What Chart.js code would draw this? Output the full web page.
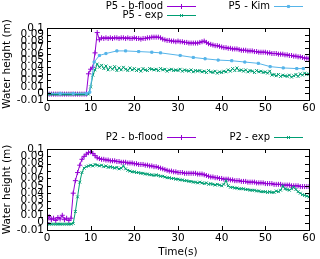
<!DOCTYPE html>
<html lang="en">
<head>
<meta charset="UTF-8">
<script src="https://cdn.jsdelivr.net/npm/chart.js@4.4.0/dist/chart.umd.min.js"></script>
<title>Water height P5 / P2</title>
<style>
  body { margin: 0; background: #fff; }
  canvas { display: block; }
</style>
</head>
<body>
<canvas id="topChart" width="320" height="130"></canvas>
<canvas id="bottomChart" width="320" height="129"></canvas>
<script>
// time axis (s), 0.5 s sampling
const time = [
  0, 0.5, 1, 1.5, 2, 2.5, 3, 3.5, 4, 4.5,
  5, 5.5, 6, 6.5, 7, 7.5, 8, 8.5, 9, 9.5,
  10, 10.5, 11, 11.5, 12, 12.5, 13, 13.5, 14, 14.5,
  15, 15.5, 16, 16.5, 17, 17.5, 18, 18.5, 19, 19.5,
  20, 20.5, 21, 21.5, 22, 22.5, 23, 23.5, 24, 24.5,
  25, 25.5, 26, 26.5, 27, 27.5, 28, 28.5, 29, 29.5,
  30, 30.5, 31, 31.5, 32, 32.5, 33, 33.5, 34, 34.5,
  35, 35.5, 36, 36.5, 37, 37.5, 38, 38.5, 39, 39.5,
  40, 40.5, 41, 41.5, 42, 42.5, 43, 43.5, 44, 44.5,
  45, 45.5, 46, 46.5, 47, 47.5, 48, 48.5, 49, 49.5,
  50, 50.5, 51, 51.5, 52, 52.5, 53, 53.5, 54, 54.5,
  55, 55.5, 56, 56.5, 57, 57.5, 58, 58.5, 59, 59.5,
  60
];

const p5Bflood = [
  -0.001, -0.001, -0.001, -0.001, -0.001, -0.001, -0.001, -0.001, -0.001, -0.001,
  -0.001, -0.001, -0.001, -0.001, -0.001, -0.001, -0.001, -0.001, -0.001, 0.030,
  0.037, 0.040, 0.062, 0.093, 0.082, 0.085, 0.084, 0.085, 0.084, 0.085,
  0.084, 0.085, 0.085, 0.084, 0.085, 0.085, 0.084, 0.085, 0.084, 0.084,
  0.085, 0.084, 0.084, 0.083, 0.084, 0.084, 0.085, 0.085, 0.086, 0.086,
  0.086, 0.086, 0.085, 0.083, 0.082, 0.081, 0.081, 0.080, 0.080, 0.079,
  0.080, 0.079, 0.079, 0.078, 0.078, 0.077, 0.077, 0.077, 0.077, 0.077,
  0.078, 0.079, 0.080, 0.078, 0.076, 0.075, 0.074, 0.073, 0.073, 0.072,
  0.071, 0.070, 0.070, 0.069, 0.069, 0.068, 0.068, 0.068, 0.067, 0.066,
  0.066, 0.066, 0.065, 0.065, 0.065, 0.064, 0.064, 0.063, 0.063, 0.063,
  0.063, 0.062, 0.062, 0.061, 0.061, 0.061, 0.060, 0.060, 0.060, 0.059,
  0.059, 0.058, 0.058, 0.057, 0.057, 0.056, 0.056, 0.055, 0.054, 0.054,
  0.053
];

const p5Exp = [
  -0.001, -0.001, -0.001, -0.001, -0.001, -0.001, -0.001, -0.001, -0.001, -0.001,
  -0.001, -0.001, -0.001, -0.001, -0.001, -0.001, -0.001, -0.001, -0.001, -0.001,
  0.010, 0.028, 0.036, 0.045, 0.040, 0.043, 0.038, 0.042, 0.036, 0.040,
  0.037, 0.041, 0.035, 0.039, 0.036, 0.040, 0.037, 0.035, 0.039, 0.036,
  0.038, 0.035, 0.037, 0.034, 0.038, 0.036, 0.035, 0.038, 0.037, 0.036,
  0.037, 0.035, 0.038, 0.036, 0.037, 0.034, 0.036, 0.037, 0.035, 0.036,
  0.035, 0.037, 0.034, 0.036, 0.035, 0.034, 0.036, 0.033, 0.035, 0.034,
  0.035, 0.033, 0.034, 0.032, 0.035, 0.033, 0.032, 0.034, 0.031, 0.033,
  0.032, 0.034, 0.033, 0.036, 0.034, 0.038, 0.035, 0.039, 0.035, 0.036,
  0.034, 0.036, 0.033, 0.035, 0.034, 0.032, 0.035, 0.033, 0.034, 0.032,
  0.033, 0.031, 0.034, 0.028, 0.029, 0.027, 0.029, 0.026, 0.028, 0.027,
  0.026, 0.028, 0.025, 0.027, 0.029, 0.026, 0.030, 0.028, 0.031, 0.029,
  0.030
];

const kimTime = [0, 3, 6, 9, 9.8, 10.8, 12, 13.5, 16, 18, 21, 24, 26, 30.5, 33.5, 36.2, 39.2, 42.3, 45.3, 48.4, 51.1, 54.1, 57.2, 58.7];
const p5Kim = [0, 0, 0, 0, 0.002, 0.048, 0.058, 0.061, 0.065, 0.065, 0.064, 0.063, 0.062, 0.058, 0.055, 0.053, 0.051, 0.050, 0.048, 0.046, 0.041, 0.039, 0.038, 0.038];

const p2Bflood = [
  0.000, 0.008, 0.004, 0.006, 0.003, 0.007, 0.005, 0.010, 0.004, 0.006,
  0.003, 0.006, 0.040, 0.057, 0.068, 0.078, 0.086, 0.090, 0.093, 0.095,
  0.096, 0.094, 0.091, 0.088, 0.087, 0.086, 0.086, 0.085, 0.085, 0.084,
  0.084, 0.084, 0.083, 0.083, 0.082, 0.082, 0.082, 0.081, 0.081, 0.081,
  0.080, 0.080, 0.079, 0.079, 0.079, 0.078, 0.078, 0.077, 0.077, 0.076,
  0.076, 0.075, 0.074, 0.073, 0.072, 0.071, 0.070, 0.070, 0.069, 0.069,
  0.068, 0.068, 0.068, 0.067, 0.067, 0.067, 0.067, 0.067, 0.067, 0.066,
  0.066, 0.066, 0.065, 0.064, 0.063, 0.062, 0.062, 0.061, 0.061, 0.060,
  0.060, 0.059, 0.059, 0.059, 0.058, 0.058, 0.057, 0.057, 0.057, 0.056,
  0.056, 0.056, 0.055, 0.055, 0.055, 0.055, 0.054, 0.054, 0.054, 0.054,
  0.053, 0.053, 0.053, 0.053, 0.052, 0.052, 0.052, 0.052, 0.051, 0.051,
  0.051, 0.051, 0.050, 0.050, 0.050, 0.050, 0.049, 0.049, 0.049, 0.049,
  0.049
];

const p2Exp = [
  -0.002, -0.002, -0.002, -0.002, -0.002, -0.002, -0.002, -0.002, -0.002, -0.002,
  -0.002, -0.002, -0.001, 0.015, 0.035, 0.055, 0.068, 0.074, 0.076, 0.077,
  0.078, 0.077, 0.079, 0.078, 0.077, 0.078, 0.076, 0.077, 0.075, 0.076,
  0.075, 0.074, 0.075, 0.073, 0.074, 0.077, 0.073, 0.071, 0.070, 0.069,
  0.069, 0.068, 0.068, 0.067, 0.067, 0.066, 0.066, 0.065, 0.065, 0.064,
  0.065, 0.064, 0.063, 0.063, 0.062, 0.061, 0.061, 0.060, 0.060, 0.059,
  0.059, 0.058, 0.058, 0.057, 0.057, 0.056, 0.056, 0.055, 0.055, 0.054,
  0.055, 0.054, 0.053, 0.054, 0.052, 0.053, 0.052, 0.051, 0.052, 0.051,
  0.050, 0.052, 0.057, 0.050, 0.048, 0.048, 0.047, 0.047, 0.046, 0.046,
  0.046, 0.045, 0.045, 0.044, 0.044, 0.044, 0.043, 0.043, 0.042, 0.042,
  0.042, 0.041, 0.042, 0.041, 0.041, 0.043, 0.042, 0.044, 0.050, 0.046,
  0.045, 0.044, 0.046, 0.048, 0.045, 0.042, 0.040, 0.038, 0.037, 0.036,
  0.035
];

const PURPLE = '#9400d3';
const GREEN = '#009e73';
const BLUE = '#56b4e9';
const FONT = { family: 'DejaVu Sans', size: 10.5 };

function pts(xs, ys) {
  return xs.map((x, i) => ({ x: x, y: ys[i] }));
}

// gnuplot style frame with inward ticks on all sides
const framePlugin = {
  id: 'frame',
  afterDatasetsDraw(chart) {
    const ctx = chart.ctx, a = chart.chartArea;
    const xs = chart.scales.x, ys = chart.scales.y;
    ctx.save();
    ctx.strokeStyle = '#000';
    ctx.lineWidth = 1;
    ctx.beginPath();
    xs.ticks.forEach(t => {
      const p = Math.round(xs.getPixelForValue(t.value)) + 0.5;
      ctx.moveTo(p, a.bottom); ctx.lineTo(p, a.bottom - 4);
      ctx.moveTo(p, a.top); ctx.lineTo(p, a.top + 4);
    });
    ys.ticks.forEach(t => {
      const p = Math.round(ys.getPixelForValue(t.value)) + 0.5;
      ctx.moveTo(a.left, p); ctx.lineTo(a.left + 4, p);
      ctx.moveTo(a.right, p); ctx.lineTo(a.right - 4, p);
    });
    ctx.stroke();
    ctx.strokeRect(Math.round(a.left) + 0.5, Math.round(a.top) + 0.5,
                   Math.round(a.right - a.left), Math.round(a.bottom - a.top));
    ctx.restore();
  }
};

// key: text right-aligned, then a short line sample with the point marker
const keyPlugin = {
  id: 'gpKey',
  afterDraw(chart, args, opts) {
    const ctx = chart.ctx;
    ctx.save();
    ctx.font = '10px "DejaVu Sans"';
    ctx.textAlign = 'right';
    ctx.textBaseline = 'middle';
    opts.items.forEach(it => {
      ctx.fillStyle = '#000';
      ctx.fillText(it.label, it.x, it.y);
      ctx.strokeStyle = it.color;
      ctx.fillStyle = it.color;
      ctx.lineWidth = 1;
      ctx.beginPath();
      ctx.moveTo(it.x + 4, it.y + 0.5);
      ctx.lineTo(it.x + 33, it.y + 0.5);
      ctx.stroke();
      Chart.helpers.drawPoint(ctx, { pointStyle: it.style, radius: it.r, rotation: 0, borderWidth: 1 },
        it.x + 18.5, it.y + 0.5);
    });
    ctx.restore();
  }
};

function series(label, data, color, style, r) {
  return {
    label: label, data: data, showLine: true,
    borderColor: color, backgroundColor: color, borderWidth: 1,
    pointStyle: style, pointRadius: r, pointBorderWidth: 1, pointHoverRadius: r
  };
}

function makeOptions(padTop, xHeight, showXTitle, keyItems) {
  return {
    responsive: false, animation: false,
    layout: { padding: { top: padTop, right: 11, left: 0, bottom: 0 } },
    plugins: { legend: { display: false }, tooltip: { enabled: false }, gpKey: { items: keyItems } },
    scales: {
      x: {
        type: 'linear', min: 0, max: 60,
        afterFit(s) { s.height = xHeight; },
        grid: { display: false, drawTicks: false },
        border: { display: false },
        ticks: { stepSize: 10, padding: 2, maxRotation: 0, color: '#000', font: FONT },
        title: { display: showXTitle, text: 'Time(s)', color: '#000', font: FONT, padding: { top: 0, bottom: 0 } }
      },
      y: {
        min: -0.01, max: 0.1,
        afterFit(s) { s.width = 47; },
        grid: { display: false, drawTicks: false },
        border: { display: false },
        ticks: {
          stepSize: 0.01, autoSkip: false, padding: 3, color: '#000', font: FONT,
          callback: v => String(+v.toFixed(2))
        },
        title: { display: true, text: 'Water height (m)', color: '#000', font: FONT, padding: { top: 1, bottom: 0 } }
      }
    }
  };
}

new Chart(document.getElementById('topChart'), {
  type: 'scatter',
  data: {
    datasets: [
      series('P5 - Kim', pts(kimTime, p5Kim), BLUE, 'rect', 1.5),
      series('P5 - exp', pts(time, p5Exp), GREEN, 'crossRot', 2),
      series('P5 - b-flood', pts(time, p5Bflood), PURPLE, 'cross', 2.5)
    ]
  },
  options: makeOptions(28, 30, false, [
    { label: 'P5 - b-flood', x: 163, y: 6, color: PURPLE, style: 'cross', r: 2.5 },
    { label: 'P5 - exp', x: 163, y: 15, color: GREEN, style: 'crossRot', r: 2 },
    { label: 'P5 - Kim', x: 270, y: 6, color: BLUE, style: 'rect', r: 1.5 }
  ]),
  plugins: [framePlugin, keyPlugin]
});

new Chart(document.getElementById('bottomChart'), {
  type: 'scatter',
  data: {
    datasets: [
      series('P2 - exp', pts(time, p2Exp), GREEN, 'crossRot', 2),
      series('P2 - b-flood', pts(time, p2Bflood), PURPLE, 'cross', 2.5)
    ]
  },
  options: makeOptions(19, 29, true, [
    { label: 'P2 - b-flood', x: 163, y: 7, color: PURPLE, style: 'cross', r: 2.5 },
    { label: 'P2 - exp', x: 270, y: 7, color: GREEN, style: 'crossRot', r: 2 }
  ]),
  plugins: [framePlugin, keyPlugin]
});
</script>
</body>
</html>
